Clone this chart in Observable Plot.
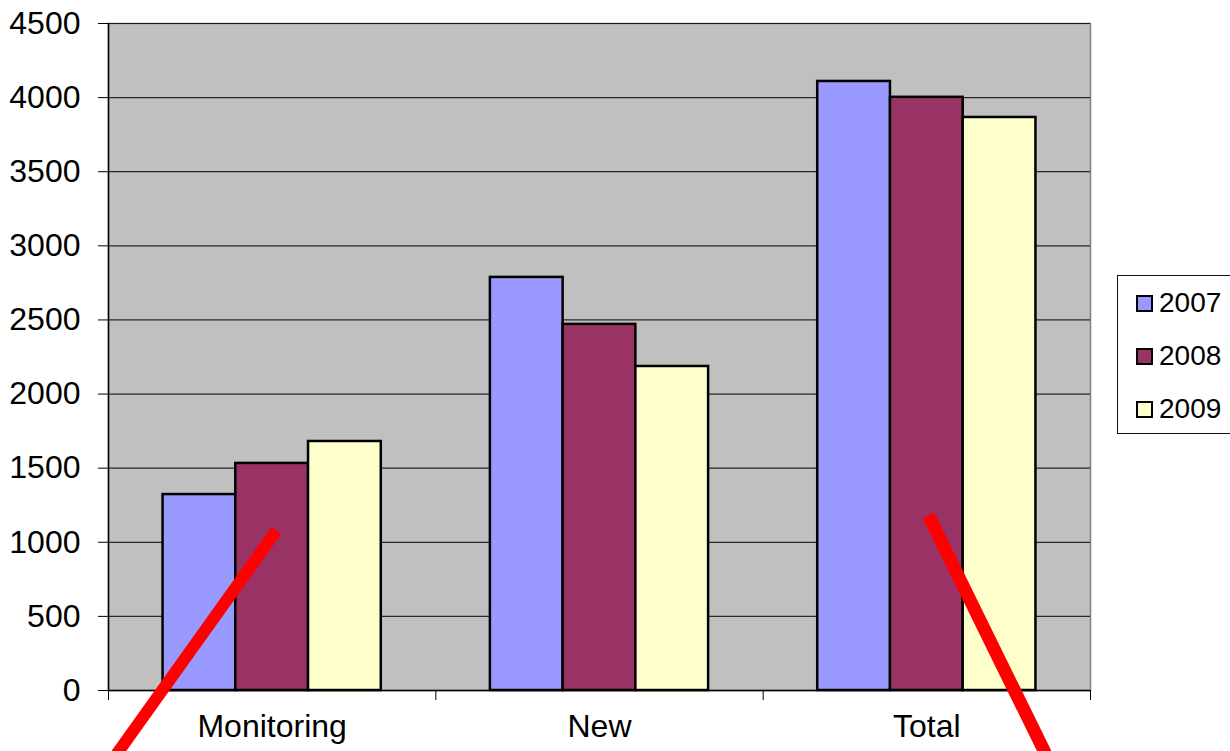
<!DOCTYPE html>
<html>
<head>
<meta charset="utf-8">
<script src="https://cdn.jsdelivr.net/npm/d3@7"></script>
<script src="https://cdn.jsdelivr.net/npm/@observablehq/plot@0.6"></script>
<style>
  html, body { margin: 0; padding: 0; background: #fff; }
  #wrap { position: relative; width: 1230px; height: 751px; overflow: hidden; font-family: "Liberation Sans", Arial, sans-serif; }
  #legend { position: absolute; left: 1117px; top: 275px; width: 130px; height: 159px; border: 1px solid #111; background: #fff; box-sizing: border-box; }
  #legend .item { position: absolute; left: 18px; display: flex; align-items: center; font-size: 28px; color: #000; line-height: 1; }
  #legend .swatch { width: 13px; height: 13px; border: 2px solid #000; margin-right: 6px; }
</style>
</head>
<body>
<div id="wrap"></div>
<script>
// Case counts per category and year
const categories = ["Monitoring", "New", "Total"];
const years = ["2007", "2008", "2009"];
const monitoring = [1322, 1532, 1680];
const newCases = [2787, 2470, 2186];
const total = [4109, 4002, 3866];
const yTicks = [0, 500, 1000, 1500, 2000, 2500, 3000, 3500, 4000, 4500];
const colors = ["#9999FF", "#993366", "#FFFFCC"];

// Hand-drawn red strike-through strokes, in data units (category slot, value)
const strokeA = [{x: 0.002, y: -500}, {x: 0.513, y: 1079}];
const strokeB = [{x: 2.505, y: 1181}, {x: 2.879, y: -500}];

const seriesByCategory = [monitoring, newCases, total];
const rows = categories.flatMap((category, i) =>
  years.map((year, j) => ({category, year, value: seriesByCategory[i][j], slot: i, k: j}))
);

// Each category occupies one unit slot; the three bars fill its middle two thirds
const barWidth = 2 / 9;
const groupOffset = 1 / 6;

const chart = Plot.plot({
  width: 1230,
  height: 751,
  marginLeft: 108,
  marginRight: 140,
  marginTop: 23,
  marginBottom: 61,
  x: {domain: [0, 3], axis: null},
  y: {domain: [0, 4500], axis: null},
  color: {domain: years, range: colors},
  style: {fontFamily: "'Liberation Sans', Arial, sans-serif", fontSize: "32px", background: "white", color: "#000"},
  marks: [
    Plot.frame({fill: "#C0C0C0", stroke: "#808080", strokeWidth: 1.5}),
    Plot.gridY(yTicks.filter(d => d > 0), {stroke: "#000", strokeOpacity: 0.8, strokeWidth: 1.2}),
    Plot.rect(rows, {
      x1: d => d.slot + groupOffset + d.k * barWidth,
      x2: d => d.slot + groupOffset + (d.k + 1) * barWidth,
      y1: 0,
      y2: "value",
      fill: "year",
      stroke: "#000",
      strokeWidth: 2.5
    }),
    Plot.ruleY([0], {stroke: "#000", strokeWidth: 1.5}),
    Plot.ruleX([0], {y1: 0, y2: 4500, stroke: "#000", strokeWidth: 1.5}),
    Plot.axisY({ticks: yTicks, tickSize: 10, tickPadding: 18, tickFormat: d3.format("d"), fontSize: 32, stroke: "#000", strokeOpacity: 1, label: null}),
    Plot.axisX({ticks: [0, 1, 2, 3], tickSize: 10, tickFormat: () => "", stroke: "#000", strokeOpacity: 1, label: null}),
    Plot.axisX({ticks: [0.5, 1.5, 2.5], tickSize: 0, tickPadding: 24, tickFormat: d => categories[Math.floor(d)], fontSize: 32, label: null}),
    Plot.line(strokeA, {x: "x", y: "y", stroke: "#FF0000", strokeWidth: 12, strokeLinecap: "butt", clip: false}),
    Plot.line(strokeB, {x: "x", y: "y", stroke: "#FF0000", strokeWidth: 13, strokeLinecap: "butt", clip: false})
  ]
});

const wrap = document.getElementById("wrap");
wrap.appendChild(chart);

// Legend box at the right of the plot
const legend = document.createElement("div");
legend.id = "legend";
years.forEach((year, i) => {
  const item = document.createElement("div");
  item.className = "item";
  item.style.top = (13 + i * 53) + "px";
  const sw = document.createElement("span");
  sw.className = "swatch";
  sw.style.background = colors[i];
  const label = document.createElement("span");
  label.textContent = year;
  item.appendChild(sw);
  item.appendChild(label);
  legend.appendChild(item);
});
wrap.appendChild(legend);
</script>
</body>
</html>
